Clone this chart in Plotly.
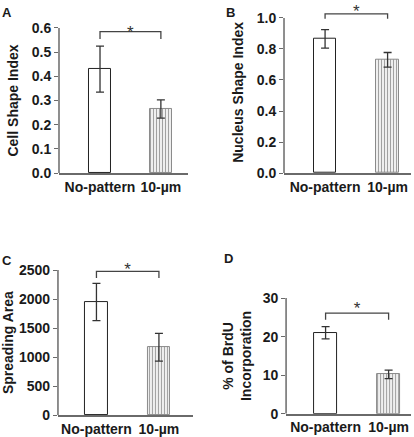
import plotly.graph_objects as go

categories = ["No-pattern", "10-µm"]

panel_letters = ["A", "B", "C", "D"]
y_titles = ["Cell Shape Index", "Nucleus Shape Index", "Spreading Area", "% of BrdU<br>Incorporation"]

cell_shape = [0.43, 0.265]
cell_shape_err = [0.095, 0.038]
nucleus_shape = [0.865, 0.73]
nucleus_shape_err = [0.06, 0.047]
spreading_area = [1950, 1170]
spreading_area_err = [320, 240]
brdu = [21.0, 10.2]
brdu_err = [1.6, 1.1]

y_tick_values = [
    [0.0, 0.1, 0.2, 0.3, 0.4, 0.5, 0.6],
    [0.0, 0.2, 0.4, 0.6, 0.8, 1.0],
    [0, 500, 1000, 1500, 2000, 2500],
    [0, 10, 20, 30],
]
y_tick_labels = [
    ["0.0", "0.1", "0.2", "0.3", "0.4", "0.5", "0.6"],
    ["0.0", "0.2", "0.4", "0.6", "0.8", "1.0"],
    ["0", "500", "1000", "1500", "2000", "2500"],
    ["0", "10", "20", "30"],
]
y_tops = [0.6, 1.0, 2500, 30]
# significance bracket: (leg bottom, bracket top), star position
bracket_levels = [(0.554, 0.585), (0.994, 1.026), (2362, 2477), (24.4, 26.1)]
star_levels = [0.578, 1.031, 2492, 27.0]

values = [cell_shape, nucleus_shape, spreading_area, brdu]
errors = [cell_shape_err, nucleus_shape_err, spreading_area_err, brdu_err]

# layout geometry (paper fractions)
x_domains = [[0.1425, 0.454], [0.686, 0.993], [0.140, 0.466], [0.691, 0.993]]
y_domains = [[0.604, 0.936], [0.604, 0.959], [0.050, 0.382], [0.053, 0.318]]
x_ranges = [[-0.674, 1.445], [-0.657, 1.376], [-0.616, 1.544], [-0.627, 1.357]]
exts = [1.0, 1.04, 1.0, 1.0]  # headroom above the top tick for the bracket
title_standoffs = [9, 9, 7, 7]
letter_pos = [(0.0, 0.992), (0.541, 0.992), (0.0, 0.425), (0.536, 0.43)]

FONT = "Liberation Sans, Arial, sans-serif"
AX = "#6a6a6a"
TXT = "#1a1a1a"

fig = go.Figure()
annotations = []
shapes = []
for i in range(4):
    xa = "x" if i == 0 else f"x{i+1}"
    ya = "y" if i == 0 else f"y{i+1}"
    fig.add_trace(go.Bar(
        x=[0, 1], y=values[i], xaxis=xa, yaxis=ya, width=0.36,
        marker=dict(
            color=["white", "white"],
            line=dict(color=["#222222", "#8a8a8a"], width=1),
            pattern=dict(shape=["", "|"], fgcolor="#6e6e6e", bgcolor="white",
                         size=3, solidity=0.45),
        ),
        error_y=dict(type="data", array=errors[i], color="#333333",
                     thickness=1.3, width=4),
        cliponaxis=False, showlegend=False, hoverinfo="skip",
    ))
    lo, hi = bracket_levels[i]
    fig.add_trace(go.Scatter(
        x=[0, 0, 1, 1], y=[lo, hi, hi, lo], xaxis=xa, yaxis=ya,
        mode="lines", line=dict(color="#444444", width=1.3),
        cliponaxis=False, showlegend=False, hoverinfo="skip",
    ))
    fig.add_trace(go.Scatter(
        x=[0.5], y=[star_levels[i]], xaxis=xa, yaxis=ya,
        mode="text", text=["*"], textposition="middle center",
        textfont=dict(family=FONT, size=17, color="#333333"),
        cliponaxis=False, showlegend=False, hoverinfo="skip",
    ))
    lx, ly = letter_pos[i]
    annotations.append(dict(
        x=lx, y=ly, xref="paper", yref="paper", text=f"<b>{panel_letters[i]}</b>",
        showarrow=False, xanchor="left", yanchor="top",
        font=dict(family=FONT, size=13, color=TXT),
    ))
    # y-axis spine, stopping at the top tick
    shapes.append(dict(
        type="line", xref=f"{xa} domain", yref=ya, x0=0, x1=0,
        y0=0, y1=y_tops[i], line=dict(color=AX, width=1.5), layer="above",
    ))
    xkey = "xaxis" if i == 0 else f"xaxis{i+1}"
    ykey = "yaxis" if i == 0 else f"yaxis{i+1}"
    d0, d1 = y_domains[i]
    ext = min(exts[i], (1.0 - d0) / (d1 - d0))
    fig.layout[xkey] = dict(
        domain=x_domains[i], range=x_ranges[i], anchor=ya, automargin=False,
        tickmode="array", tickvals=[0, 1],
        ticktext=[f"<b>{c}</b>" for c in categories],
        ticks="", showline=True, linecolor=AX, linewidth=1.5,
        showgrid=False, zeroline=False, fixedrange=True,
        tickfont=dict(family=FONT, size=14, color=TXT),
    )
    fig.layout[ykey] = dict(
        domain=[d0, d0 + (d1 - d0) * ext],
        range=[0, y_tops[i] * ext],
        anchor=xa, automargin=False,
        tickmode="array", tickvals=y_tick_values[i],
        ticktext=[f"<b>{t}</b>" for t in y_tick_labels[i]],
        ticks="outside", ticklen=4, tickcolor=AX, tickwidth=1.2,
        showline=False,
        showgrid=False, zeroline=False, fixedrange=True,
        tickfont=dict(family=FONT, size=14, color=TXT),
        title=dict(text=f"<b>{y_titles[i]}</b>", standoff=title_standoffs[i],
                   font=dict(family=FONT, size=14, color=TXT)),
    )

fig.update_layout(
    width=414, height=437,
    margin=dict(l=0, r=0, t=0, b=0),
    paper_bgcolor="white", plot_bgcolor="white",
    annotations=annotations, shapes=shapes, bargap=0,
)
fig.write_html(
    "out.html",
    config={"displayModeBar": False},
    post_script="document.body.style.margin='0';document.body.style.overflow='hidden';",
)
